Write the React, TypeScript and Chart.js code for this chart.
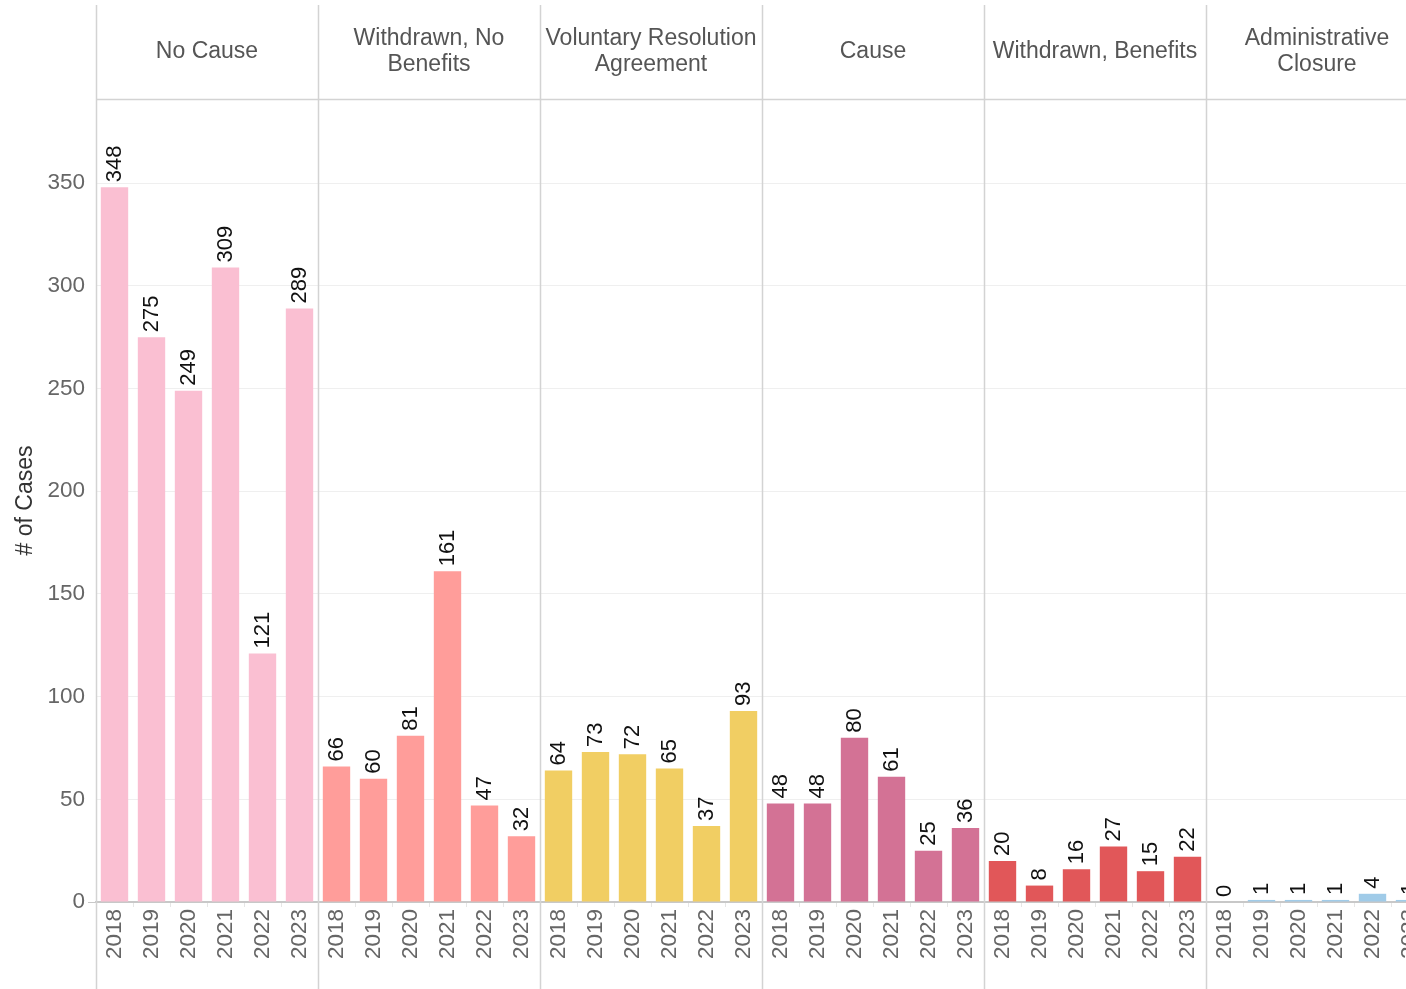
import React, { useEffect, useRef } from "react";
import { Chart, registerables } from "chart.js";

Chart.register(...registerables);

const years = ["2018", "2019", "2020", "2021", "2022", "2023"];
const outcomes = [
  "No Cause",
  "Withdrawn, No Benefits",
  "Voluntary Resolution Agreement",
  "Cause",
  "Withdrawn, Benefits",
  "Administrative Closure",
];
const headerLines = [
  ["No Cause"],
  ["Withdrawn, No", "Benefits"],
  ["Voluntary Resolution", "Agreement"],
  ["Cause"],
  ["Withdrawn, Benefits"],
  ["Administrative", "Closure"],
];
const noCause = [348, 275, 249, 309, 121, 289];
const withdrawnNoBenefits = [66, 60, 81, 161, 47, 32];
const voluntaryResolution = [64, 73, 72, 65, 37, 93];
const cause = [48, 48, 80, 61, 25, 36];
const withdrawnBenefits = [20, 8, 16, 27, 15, 22];
const adminClosure = [0, 1, 1, 1, 4, 1];
const outcomeColors = ["#FABFD2", "#FF9D9A", "#F1CE63", "#D37295", "#E15759", "#A0CBE8"];
const yTicks = [0, 50, 100, 150, 200, 250, 300, 350];

const FONT = '"Liberation Sans", Arial, sans-serif';

export default function App() {
  const ref = useRef<HTMLCanvasElement | null>(null);

  useEffect(() => {
    const series = [noCause, withdrawnNoBenefits, voluntaryResolution, cause, withdrawnBenefits, adminClosure];
    const labels: string[] = [];
    const data: number[] = [];
    const colors: string[] = [];
    series.forEach((s, i) => {
      s.forEach((v, j) => {
        labels.push(years[j]);
        data.push(v);
        colors.push(outcomeColors[i]);
      });
    });

    const facetPlugin = {
      id: "facets",
      afterDraw(chart: any) {
        const ctx = chart.ctx;
        const xs = chart.scales.x;
        const area = chart.chartArea;
        const step = xs.getPixelForValue(1) - xs.getPixelForValue(0);
        ctx.save();
        ctx.strokeStyle = "#d3d3d3";
        ctx.lineWidth = 1.5;
        ctx.beginPath();
        ctx.moveTo(area.left, 99.5);
        ctx.lineTo(chart.width, 99.5);
        ctx.stroke();
        for (let i = 0; i < outcomes.length; i++) {
          const left = xs.getPixelForValue(i * 6) - step / 2;
          ctx.beginPath();
          ctx.moveTo(Math.round(left) + 0.5, 5);
          ctx.lineTo(Math.round(left) + 0.5, chart.height);
          ctx.stroke();
          const cx = left + step * 3;
          const lines = headerLines[i];
          ctx.fillStyle = "#555555";
          ctx.font = `23px ${FONT}`;
          ctx.textAlign = "center";
          ctx.textBaseline = "middle";
          const lh = 26;
          const startY = 52 - ((lines.length - 1) * lh) / 2;
          lines.forEach((t, k) => ctx.fillText(t, cx, startY + k * lh));
        }
        const meta = chart.getDatasetMeta(0);
        ctx.fillStyle = "#111111";
        ctx.font = `22px ${FONT}`;
        ctx.textAlign = "left";
        ctx.textBaseline = "middle";
        meta.data.forEach((bar: any, idx: number) => {
          const v = chart.data.datasets[0].data[idx];
          ctx.save();
          ctx.translate(bar.x, bar.y - 5);
          ctx.rotate(-Math.PI / 2);
          ctx.fillText(String(v), 0, 0);
          ctx.restore();
        });
        ctx.restore();
      },
    };

    const chart = new Chart(ref.current as HTMLCanvasElement, {
      type: "bar",
      data: {
        labels,
        datasets: [
          {
            label: "# of Cases",
            data,
            backgroundColor: colors,
            borderWidth: 0,
            categoryPercentage: 1,
            barPercentage: 0.74,
          },
        ],
      },
      options: {
        responsive: false,
        animation: false,
        layout: { padding: { top: 99, left: 0, right: 0, bottom: 0 } },
        plugins: {
          legend: { display: false },
          tooltip: { enabled: false },
        },
        scales: {
          x: {
            grid: {
              display: true,
              drawOnChartArea: false,
              offset: true,
              tickLength: 5,
              color: "#e6e6e6",
            },
            border: { display: true, color: "#c8c8c8", width: 1.5 },
            ticks: {
              minRotation: 90,
              maxRotation: 90,
              autoSkip: false,
              padding: 2,
              color: "#666666",
              font: { family: FONT, size: 22.5 },
            },
            afterFit(axis: any) {
              axis.height = 87;
              axis.paddingLeft = 0;
              axis.paddingRight = 0;
            },
          },
          y: {
            min: 0,
            max: 391,
            afterBuildTicks(axis: any) {
              axis.ticks = yTicks.map((v) => ({ value: v }));
            },
            grid: {
              color: (c: any) => (c.tick && c.tick.value === 0 ? "#c8c8c8" : "#efefef"),
              tickColor: (c: any) => (c.tick && c.tick.value === 0 ? "#c8c8c8" : "rgba(0,0,0,0)"),
              tickLength: 8,
            },
            border: { display: false },
            ticks: {
              padding: 3,
              color: "#666666",
              font: { family: FONT, size: 22.5 },
            },
            title: {
              display: true,
              text: "# of Cases",
              color: "#333333",
              font: { family: FONT, size: 23 },
              padding: { top: 12, bottom: 0 },
            },
            afterFit(axis: any) {
              axis.width = 96;
            },
          },
        },
      },
      plugins: [facetPlugin],
    });
    return () => chart.destroy();
  }, []);

  return (
    <div
      style={{
        position: "fixed",
        left: 0,
        top: 0,
        width: 1406,
        height: 989,
        overflow: "hidden",
        background: "#ffffff",
      }}
    >
      <canvas ref={ref} width={1428} height={989} style={{ width: 1428, height: 989, display: "block" }} />
    </div>
  );
}
